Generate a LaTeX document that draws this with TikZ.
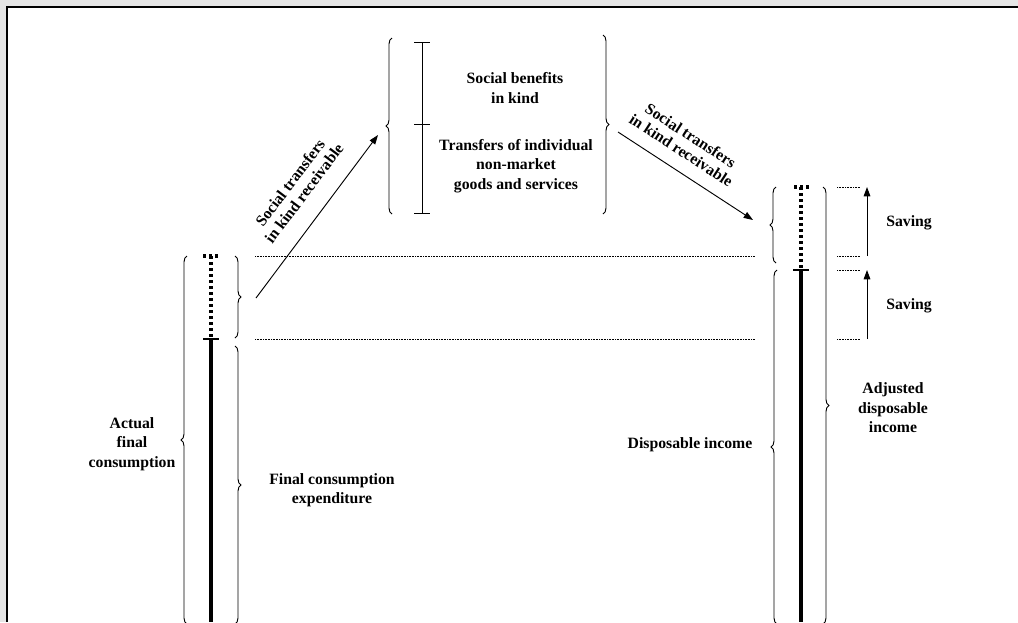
\documentclass[tikz,border=0pt]{standalone}
\usepackage{fontspec}
\setmainfont{Liberation Serif}
\usetikzlibrary{decorations.pathreplacing,arrows.meta}
\begin{document}
\begin{tikzpicture}[x=0.75pt,y=-0.75pt,
  lbl/.style={font=\bfseries\fontsize{11.8}{14.6}\selectfont, align=center, inner sep=0pt},
  rlbl/.style={font=\bfseries\fontsize{11.8}{13}\selectfont, align=center, inner sep=0pt},
  brc/.style={decorate, decoration={brace, amplitude=4.5pt}, line width=0.7pt},
  guide/.style={dash pattern=on 0.6pt off 0.6pt, line width=0.5pt},
  bar/.style={line width=3pt},
  tick/.style={line width=2.2pt},
  dotbar/.style={line width=3pt, dash pattern=on 2.25pt off 2.25pt},
  ibar/.style={line width=0.7pt},
  arr/.style={-{Triangle[length=7pt,width=5pt]}, line width=0.7pt}]
\useasboundingbox (0,0) rectangle (1018,622);
\fill[black!10] (0,0) rectangle (1018,622);
\fill[white] (7,7) rectangle (1018,622);
\draw[line width=1.6pt] (7,622) -- (7,7) -- (1018,7);

% ---------- left column ----------
\coordinate (lt) at (211,256);
\coordinate (lm) at (211,339);
\coordinate (lb) at (211,622);
\draw[dotbar] (lt) -- (lm);
\draw[dotbar] (203,256) -- (219,256);
\draw[bar] (lm) -- (lb);
\draw[tick] (203,339) -- (219,339);

\draw[brc] (187,624) -- (187,256);
\draw[brc] (235,256) -- (235,338);
\draw[brc] (235,346) -- (235,624);

\node[lbl] (afc) at (132,444) {Actual\\final\\consumption};
\node[lbl] (fce) at (332,490) {Final consumption\\expenditure};

% guides
\coordinate (g1a) at (255,256); \coordinate (g1b) at (755,256);
\coordinate (g2a) at (255,339); \coordinate (g2b) at (755,339);
\draw[guide] (g1a) -- (g1b);
\draw[guide] (g2a) -- (g2b);

% arrow 1
\coordinate (a1s) at (256,298);
\coordinate (a1e) at (378,135);
\draw[arr] (a1s) -- (a1e);
\node[rlbl, rotate=53] (stk1) at (297,188) {Social transfers\\in kind receivable};

% ---------- top group ----------
\draw[brc] (392,214) -- (392,38);
\draw[brc] (603,35) -- (603,214);
\coordinate (it) at (422,42);
\coordinate (im) at (422,124);
\coordinate (ib) at (422,213);
\draw[ibar] (it) -- (ib);
\draw[ibar] (414,42) -- (430,42);
\draw[ibar] (414,124) -- (430,124);
\draw[ibar] (414,213) -- (430,213);
\node[lbl] (sbk) at (515,88) {Social benefits\\in kind};
\node[lbl] (tig) at (516,166) {Transfers of individual\\non-market\\goods and services};

% arrow 2
\coordinate (a2s) at (618,132);
\coordinate (a2e) at (753,220);
\draw[arr] (a2s) -- (a2e);
\node[rlbl, rotate=-33] (stk2) at (686,143) {Social transfers\\in kind receivable};

% ---------- right column ----------
\coordinate (rt) at (801,187);
\coordinate (rm) at (801,270);
\coordinate (rb) at (801,622);
\draw[dotbar] (rt) -- (rm);
\draw[dotbar] (794,187) -- (809,187);
\draw[bar] (rm) -- (rb);
\draw[tick] (793,270) -- (809,270);

\draw[brc] (776,263) -- (776,187);
\draw[brc] (777,624) -- (777,270);
\draw[brc] (823,187) -- (823,624);

\node[lbl] (di) at (690,445) {Disposable income};
\node[lbl] (adi) at (893,408) {Adjusted\\disposable\\income};

\draw[guide] (837,187) -- (860,187);
\draw[guide] (837,256) -- (860,256);
\draw[guide] (837,270) -- (860,270);
\draw[guide] (837,339) -- (860,339);

\coordinate (s1b) at (867,256); \coordinate (s1t) at (867,187);
\coordinate (s2b) at (867,339); \coordinate (s2t) at (867,270);
\draw[arr] (s1b) -- (s1t);
\draw[arr] (s2b) -- (s2t);
\node[lbl] (sv1) at (909,223) {Saving};
\node[lbl] (sv2) at (909,306) {Saving};
\end{tikzpicture}
\end{document}
